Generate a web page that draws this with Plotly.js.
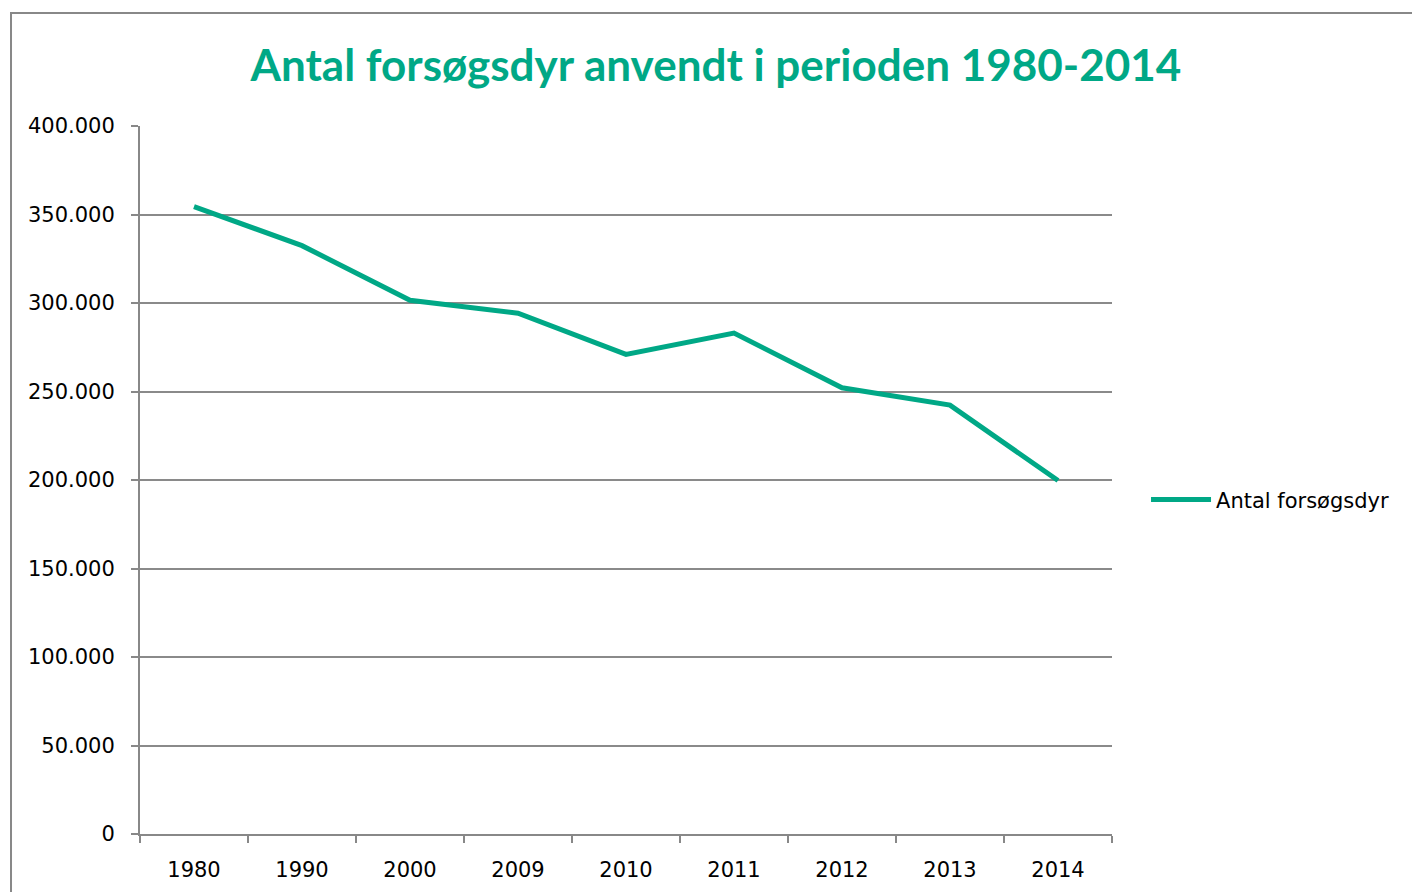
<!DOCTYPE html>
<html>
<head>
<meta charset="utf-8">
<script src="https://cdn.plot.ly/plotly-3.0.1.min.js"></script>
<style>html,body{margin:0;padding:0;background:#fff;}#chart{width:1412px;height:892px;}</style>
</head>
<body>
<div id="chart"></div>
<script>
const years = ['1980','1990','2000','2009','2010','2011','2012','2013','2014'];
const animals = [354500, 332400, 301500, 294200, 271000, 283000, 252100, 242300, 199700];
const seriesName = 'Antal forsøgsdyr';
const chartTitle = 'Antal forsøgsdyr anvendt i perioden 1980-2014';
const yTicks = [0, 50000, 100000, 150000, 200000, 250000, 300000, 350000, 400000];

const green = '#00A886';
const titleFont = 'Lato, "Open Sans", sans-serif';
const font = '"DejaVu Sans", sans-serif';

const trace = {
  x: years, y: animals, type: 'scatter', mode: 'lines', name: seriesName,
  line: {color: green, width: 5},
  hoverinfo: 'x+y'
};

const layout = {
  width: 1412, height: 892,
  separators: ',.',
  margin: {l: 140, r: 300, t: 126, b: 58, pad: 0},
  paper_bgcolor: '#fff', plot_bgcolor: '#fff',
  font: {family: font, color: '#000', size: 21},
  title: {text: '<b>' + chartTitle + '</b>', font: {family: titleFont, size: 44, color: green},
          x: 0.507, xanchor: 'center', y: 0.927, yanchor: 'middle'},
  showlegend: true,
  legend: {x: 1.035, xanchor: 'left', y: 0.472, yanchor: 'middle', font: {family: font, size: 21, color: '#000'},
           bgcolor: 'rgba(0,0,0,0)', itemwidth: 60},
  xaxis: {type: 'category', tickson: 'boundaries', ticks: 'outside', ticklen: 7, tickwidth: 2, tickcolor: '#888',
          showline: true, linecolor: '#888', linewidth: 2, showgrid: false, zeroline: false,
          tickfont: {family: font, size: 21, color: '#000'}, range: [-0.5, 8.5], ticklabelstandoff: 16},
  yaxis: {range: [0, 400000], tickvals: yTicks, tickformat: ',d', ticks: 'outside', ticklen: 7, tickwidth: 2,
          tickcolor: '#888', showline: true, linecolor: '#888', linewidth: 2, showgrid: true,
          gridcolor: '#8a8a8a', gridwidth: 2, zeroline: false, tickfont: {family: font, size: 21, color: '#000'},
          ticklabelstandoff: 12},
  shapes: [{type: 'rect', xref: 'paper', yref: 'paper', x0: -0.1327, x1: 1.33, y0: -0.2, y1: 1.1596,
            line: {color: '#888', width: 2}, fillcolor: 'rgba(0,0,0,0)', layer: 'below'}]
};

Plotly.newPlot('chart', [trace], layout, {displayModeBar: false, staticPlot: true});
</script>
</body>
</html>
